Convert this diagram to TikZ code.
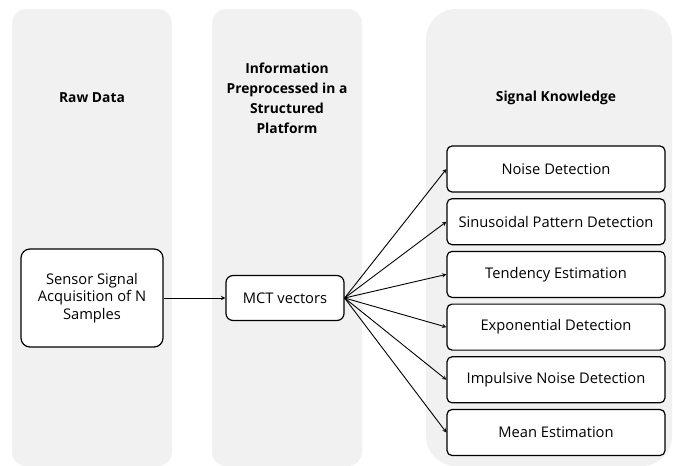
\documentclass[tikz,border=0pt]{standalone}
\usepackage{fontspec}
\setmainfont{Open Sans}
\usepackage{tikz}
\usetikzlibrary{positioning, arrows.meta}
\definecolor{panelgray}{HTML}{F1F1F1}
\tikzstyle{Panel} = [fill = panelgray, draw = none]
\tikzstyle{Head} = [align = center, font = \fontsize{13.8}{20}\selectfont\bfseries]
\tikzstyle{Box} = [rectangle, rounded corners = 7pt, draw = black, line width = 1.2pt, fill = white, align = center, inner sep = 0pt, font = \fontsize{14.7}{17.5}\selectfont]
\tikzstyle{Result} = [Box, minimum width = 218pt, minimum height = 46pt, rounded corners = 5pt]

\begin{document}
\begin{tikzpicture}[x=1pt, y=-1pt]

    \useasboundingbox (0,0) rectangle (673,466);

    %%%%%%%%%%%%%%%%%%%%%%
    \fill[Panel, rounded corners = 14pt] (12,9) rectangle (172,466);
    \fill[Panel, rounded corners = 14pt] (212,9) rectangle (362,466);
    \fill[Panel, rounded corners = 30pt] (426,9) rectangle (672,466);

    \node[Head] (rawT) at (92,98) {Raw Data};
    \node[Head] (infoT) at (287,98) {Information\\Preprocessed in a\\Structured\\Platform};
    \node[Head] (knowT) at (556,98) {Signal Knowledge};

    %%%%%%%%%%%%%%%%%%%%%%
    \node[Box, minimum width = 142pt, minimum height = 98pt, rounded corners = 9pt] (sensor) at (92,298) {Sensor Signal\\Acquisition of N\\Samples};
    \node[Box, minimum width = 118pt, minimum height = 45pt] (mct) at (285,298) {MCT vectors};

    \node[Result] (noise) at (556,169) {Noise Detection};
    \node[Result] (sinus) [below=5.5pt of noise] {Sinusoidal Pattern Detection};
    \node[Result] (tend) [below=5.5pt of sinus] {Tendency Estimation};
    \node[Result] (expo) [below=5.5pt of tend] {Exponential Detection};
    \node[Result] (impul) [below=5.5pt of expo] {Impulsive Noise Detection};
    \node[Result] (mean) [below=5.5pt of impul] {Mean Estimation};

    %%%%%%%%%%%%%%%%%%%%%%
    \draw[-stealth, line width = 1pt] (sensor) to (mct);
    \foreach \r in {noise, sinus, tend, expo, impul, mean}
        \draw[-stealth, line width = 0.9pt] (mct.east) to (\r.west);

\end{tikzpicture}
\end{document}
